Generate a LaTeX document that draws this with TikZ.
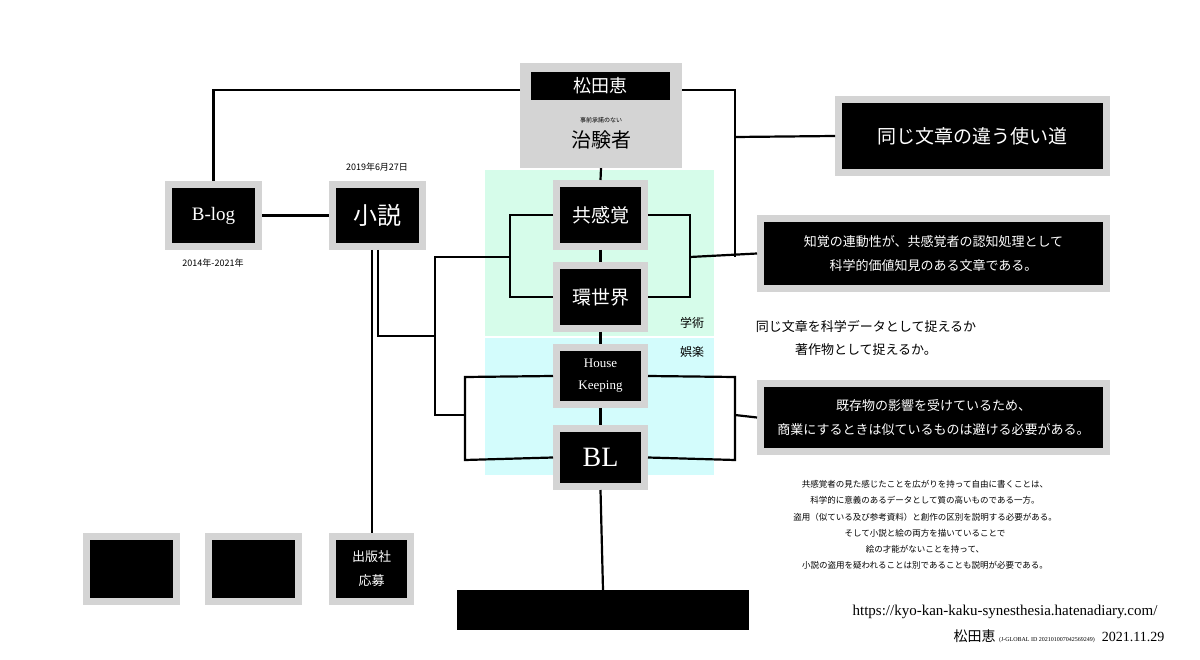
\documentclass[tikz,border=0pt]{standalone}
\usepackage{fontspec}
\setmainfont{Liberation Serif}
\newfontfamily\cjk{Noto Sans CJK JP}
\begin{document}
\begin{tikzpicture}[x=1pt,y=-1pt,
  box/.style={draw=boxgray,fill=black,line width=7pt,inner sep=0pt,text=white,align=center,font=\cjk},
  ln/.style={line width=2.2pt,black},
  lab/.style={font=\cjk\fontsize{9}{11}\selectfont,align=center}]
\definecolor{boxgray}{HTML}{D4D4D4}
\definecolor{greenbg}{HTML}{D6FCEA}
\definecolor{cyanbg}{HTML}{D3FCFC}
\fill[white] (0,0) rectangle (1200,660);
\useasboundingbox (0,0) rectangle (1200,660);
\fill[greenbg] (485,170) rectangle (714,336);
\fill[cyanbg] (485,338) rectangle (714,475);
\node[fill=boxgray,minimum width=162pt,minimum height=105pt,inner sep=0pt] (top) at (601,115.5) {};
\node[fill=black,text=white,minimum width=139pt,minimum height=28pt,inner sep=0pt,font=\cjk\fontsize{18}{20}\selectfont] (name) at (600.5,86) {松田恵};
\node[font=\cjk\fontsize{6}{7}\selectfont] (pre) at (601,120) {事前承諾のない};
\node[font=\cjk\fontsize{20}{22}\selectfont] (chiken) at (601,140) {治験者};
\node[box,minimum width=88pt,minimum height=63pt,font=\cjk\fontsize{19}{21}\selectfont] (kyo) at (600.5,215) {共感覚};
\node[box,minimum width=88pt,minimum height=63pt,font=\cjk\fontsize{19}{21}\selectfont] (kan) at (600.5,297) {環世界};
\node[box,minimum width=88pt,minimum height=57pt,font=\fontsize{13}{22}\selectfont] (hk) at (600.5,376) {House\\Keeping};
\node[box,minimum width=88pt,minimum height=58pt,font=\fontsize{28}{30}\selectfont] (bl) at (600.5,457.5) {BL};
\node[box,minimum width=90pt,minimum height=62pt,font=\fontsize{19}{21}\selectfont] (blog) at (213.5,215.5) {B-log};
\node[box,minimum width=90pt,minimum height=62pt,font=\cjk\fontsize{24}{26}\selectfont] (sho) at (377.5,215.5) {小説};
\node[box,minimum width=78pt,minimum height=65pt,font=\cjk\fontsize{13}{24}\selectfont] (pub) at (371.5,569) {出版社\\応募};
\node[box,minimum width=90pt,minimum height=65pt] (e1) at (131.5,569) {};
\node[box,minimum width=90pt,minimum height=65pt] (e2) at (253.5,569) {};
\node[box,minimum width=268pt,minimum height=73pt,font=\cjk\fontsize{19}{21}\selectfont] (same) at (972.5,136) {同じ文章の違う使い道};
\node[box,minimum width=346pt,minimum height=70pt,font=\cjk\fontsize{13}{24}\selectfont] (chikaku) at (933.5,253.5) {知覚の連動性が、共感覚者の認知処理として\\科学的価値知見のある文章である。};
\node[box,minimum width=346pt,minimum height=68pt,font=\cjk\fontsize{13}{24}\selectfont] (kizon) at (933.5,417.5) {既存物の影響を受けているため、\\商業にするときは似ているものは避ける必要がある。};
\node[fill=black,minimum width=292pt,minimum height=40pt,inner sep=0pt] (bar) at (603,610) {};
\node[lab] (d1) at (377,167) {2019年6月27日};
\node[lab] (d2) at (213,263) {2014年-2021年};
\node[font=\cjk\fontsize{12}{14}\selectfont] (gaku) at (692,323) {学術};
\node[font=\cjk\fontsize{12}{14}\selectfont] (goraku) at (692,352) {娯楽};
\node[font=\cjk\fontsize{13}{23}\selectfont,align=center] (q) at (866,338) {同じ文章を科学データとして捉えるか\\著作物として捉えるか。};
\node[font=\cjk\fontsize{8.5}{16.3}\selectfont,align=center] (para) at (925,525) {共感覚者の見た感じたことを広がりを持って自由に書くことは、\\科学的に意義のあるデータとして質の高いものである一方。\\盗用（似ている及び参考資料）と創作の区別を説明する必要がある。\\そして小説と絵の両方を描いていることで\\絵の才能がないことを持って、\\小説の盗用を疑われることは別であることも説明が必要である。};
\node[font=\fontsize{15}{17}\selectfont] (url) at (1005,612) {https://kyo-kan-kaku-synesthesia.hatenadiary.com/};
\node[anchor=east,font=\fontsize{14}{16}\selectfont] (sig) at (1168,636) {{\cjk 松田恵} {\fontsize{6}{7}\selectfont (J-GLOBAL ID 202101007042569249)}\ \ 2021.11.29};
\coordinate (tl) at (520,90);
\coordinate (tr) at (682,90);
\draw[ln] (tl) -| (blog.north);
\draw[ln] (tr) -- (735,90) -- (735,257);
\draw[ln] (735,137) -- (same.west);
\draw[ln] (blog.east) -- (sho.west);
\draw[ln] (top.south) -- (kyo.north);
\draw[ln] (kyo.south) -- (kan.north);
\draw[ln] (kan.south) -- (hk.north);
\draw[ln] (hk.south) -- (bl.north);
\draw[ln] (bl.south) -- (bar.north);
\draw[ln] (kyo.west) -- (510,215) -- (510,297) -- (kan.west);
\draw[ln] (kyo.east) -- (690,215) -- (690,297) -- (kan.east);
\draw[ln] (690,257) -- (chikaku.west);
\draw[ln] (510,257) -- (435,257) -- (435,415) -- (465,415);
\draw[ln] (hk.west) -- (465,377) -- (465,460) -- (bl.west);
\draw[ln] (hk.east) -- (735,377) -- (735,460) -- (bl.east);
\draw[ln] (735,415) -- (kizon.west);
\draw[ln] (sho.south -| 378,0) -- (378,336) -- (435,336);
\draw[ln] (sho.south -| 372,0) -- (pub.north -| 372,0);
\end{tikzpicture}
\end{document}
